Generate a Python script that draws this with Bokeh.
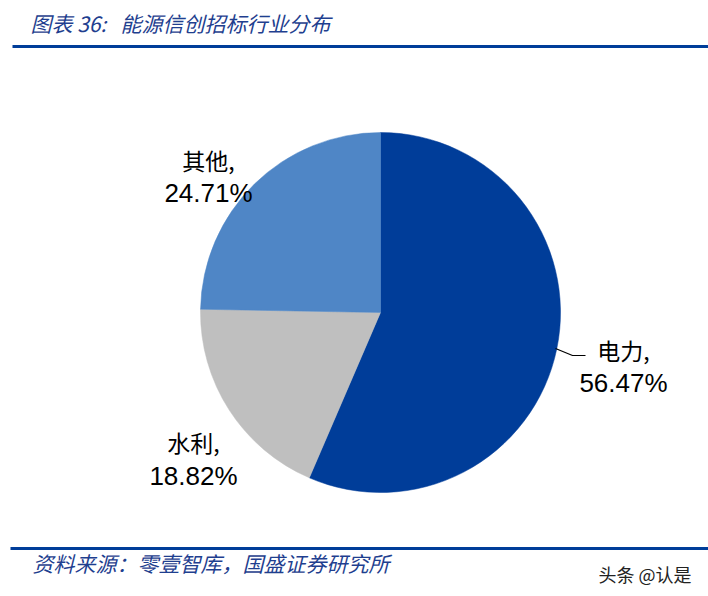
import math
from bokeh.plotting import figure
from bokeh.models import Range1d, ColumnDataSource
from bokeh.core.properties import value
from bokeh.embed import file_html
from bokeh.resources import INLINE

# Data
categories = ["电力", "水利", "其他"]
shares = [56.47, 18.82, 24.71]
colors = ["#003D99", "#BFBFBF", "#4F86C6"]

title_text = "图表 36:\u00a0\u00a0\u00a0能源信创招标行业分布"
source_text = "资料来源：零壹智库，国盛证券研究所"
watermark = "头条 @认是"

W, H = 708, 596
p = figure(width=W, height=H, output_backend="svg", toolbar_location=None,
           x_range=Range1d(0, W), y_range=Range1d(0, H), min_border=0)
p.axis.visible = False
p.grid.visible = False
p.outline_line_color = None
p.background_fill_color = "white"
p.border_fill_color = "white"

def Y(y):
    return H - y

# pie
cx, cy, r = 380, Y(312), 180
total = sum(shares)
starts, ends = [], []
cum = 0.0
for s in shares:
    a0 = math.pi / 2 - 2 * math.pi * (cum + s) / total
    a1 = math.pi / 2 - 2 * math.pi * cum / total
    starts.append(a0)
    ends.append(a1)
    cum += s
src = ColumnDataSource(dict(x=[cx] * 3, y=[cy] * 3, start=starts, end=ends, color=colors))
p.wedge(x="x", y="y", radius=r, start_angle="start", end_angle="end",
        fill_color="color", line_color="color", line_width=0.5, source=src)

# labels (position in pixel coordinates)
name_pos = [(623, 349), (193, 441), (208, 159)]
pct_pos = [(623, 382), (193, 475), (208, 192)]
for cat, s, (nx, ny), (px_, py_) in zip(categories, shares, name_pos, pct_pos):
    p.text(x=[nx], y=[Y(ny)], text=[cat + ","], text_font=value("Noto Sans CJK SC"),
           text_font_size="23px", text_color="#000000", text_align="center",
           text_baseline="middle")
    p.text(x=[px_], y=[Y(py_)], text=[f"{s:.2f}%"], text_font=value("Liberation Sans"),
           text_font_size="26px", text_color="#000000", text_align="center",
           text_baseline="middle")

# leader line for 电力
p.line(x=[555, 572, 585], y=[Y(348), Y(355), Y(355)], line_color="#000000", line_width=1.2)

# title and rules
p.text(x=[30], y=[Y(22)], text=[title_text], text_font=value("Noto Sans CJK SC"),
       text_font_size="21px", text_font_style="italic", text_color="#1F3F8F",
       text_baseline="middle")
p.line(x=[12, 708], y=[Y(46), Y(46)], line_color="#003D99", line_width=3)
p.line(x=[10, 708], y=[Y(548), Y(548)], line_color="#003D99", line_width=3)
p.text(x=[32], y=[Y(562)], text=[source_text], text_font=value("Noto Sans CJK SC"),
       text_font_size="21px", text_font_style="italic", text_color="#1F3F8F",
       text_baseline="middle")
p.text(x=[598], y=[Y(573)], text=[watermark], text_font=value("Noto Sans CJK SC"),
       text_font_size="18px", text_color="#222222", text_baseline="middle")

open("out.html", "w").write(file_html(p, INLINE))
